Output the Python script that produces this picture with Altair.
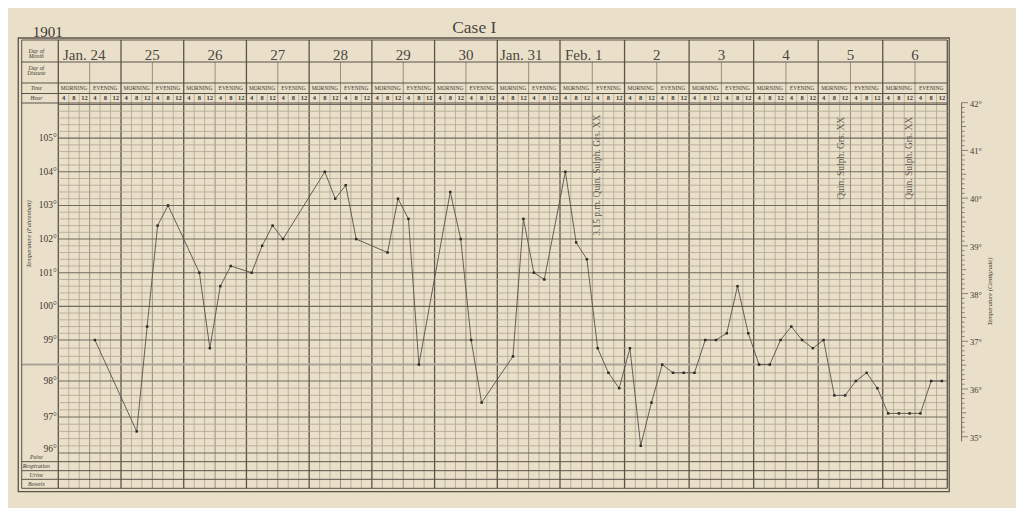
import altair as alt
import pandas as pd

# ---------------- data ----------------
day_labels = ["Jan. 24", "25", "26", "27", "28", "29", "30",
              "Jan. 31", "Feb. 1", "2", "3", "4", "5", "6"]
time_labels = ["MORNING", "EVENING"]
hour_labels = ["4", "8", "12"]

# column index (0 = Jan 24, 4 a.m.; 6 columns per day) and temperature (F)
reading_col = [3, 7, 8, 9, 10, 13, 14, 15, 16, 18, 19, 20, 21, 25, 26, 27, 28,
               31, 32, 33, 34, 37, 38, 39, 40, 43, 44, 45, 46, 48, 49, 50, 51,
               52, 53, 54, 55, 56, 57, 58, 59, 60, 61, 62, 63, 64, 65, 66, 67,
               68, 69, 70, 71, 72, 73, 74, 75, 76, 77, 78, 79, 80, 81, 82, 83]
reading_temp = [99.0, 96.6, 99.4, 102.4, 103.0, 101.0, 98.8, 100.6, 101.2, 101.0,
                101.8, 102.4, 102.0, 104.0, 103.2, 103.6, 102.0, 101.6, 103.2,
                102.6, 98.4, 103.4, 102.0, 99.0, 97.4, 98.6, 102.6, 101.0, 100.8,
                104.0, 101.9, 101.4, 98.8, 98.2, 97.8, 98.8, 96.2, 97.4, 98.4,
                98.2, 98.2, 98.2, 99.0, 99.0, 99.2, 100.6, 99.2, 98.4, 98.4, 99.0,
                99.4, 99.0, 98.8, 99.0, 97.6, 97.6, 98.0, 98.2, 97.8, 97.1, 97.1,
                97.1, 97.1, 98.0, 98.0]

fahrenheit_labels = [96, 97, 98, 99, 100, 101, 102, 103, 104, 105]
celsius_labels = [35, 36, 37, 38, 39, 40, 41, 42]
normal_temp = 98.4

annotation_text = ["3.15 p.m. Quin. Sulph. Grs. XX", "Quin. Sulph. Grs. XX",
                   "Quin. Sulph. Grs. XX"]
annotation_col = [51.4, 74.1, 80.4]
annotation_temp = [103.9, 104.4, 104.4]

header_text = ["Day of", "Month", "Day of", "Disease", "Time", "Hour"]
header_row = [0.5, 0.72, 1.27, 1.5, 2.5, 3.5]
footer_text = ["Pulse", "Respiration", "Urine", "Bowels"]
footer_row = [5.45, 6.5, 7.5, 8.5]

# ---------------- layout (scales) ----------------
FONT = "Liberation Serif"
BG = "#eae0c9"
INK = "#3c3833"
MINOR = "#aea592"
HALF = "#8f8676"
MAJOR = "#716a5e"
DAYC = "#5a534a"

XS = alt.Scale(domain=[0, 48, 84], range=[50.3, 552.0, 939.3], nice=False, zero=False)
TS = alt.Scale(domain=[96, 98, 99, 106], range=[445.0, 373.0, 332.0, 96.5], nice=False, zero=False)
RS = alt.Scale(domain=[-1, 0, 1, 2, 3, 4, 5, 6, 7, 8, 9, 10],
               range=[25.3, 32.0, 54.0, 75.0, 85.5, 95.0, 445.0, 453.7, 462.7, 471.3, 480.3, 483.7],
               nice=False, zero=False)
CS = alt.Scale(domain=[35, 42], range=[428.7, 94.7], nice=False, zero=False)


def X(f):
    return alt.X(f, type="quantitative", scale=XS, axis=None)


def Y(f, s):
    return alt.Y(f, type="quantitative", scale=s, axis=None)


layers = []

# --- vertical grid / table lines ---
vl = pd.DataFrame({"x": list(range(85))})
vl["kind"] = ["day" if i % 6 == 0 else ("half" if i % 3 == 0 else "col") for i in vl["x"]]
vl["y1"] = [0 if k == "day" else (1 if k == "half" else 3) for k in vl["kind"]]
vl["y2"] = 9
for kind, col, w in [("col", MINOR, 0.8), ("half", HALF, 0.9), ("day", DAYC, 1.3)]:
    layers.append(alt.Chart(vl[vl["kind"] == kind]).mark_rule(color=col, strokeWidth=w).encode(
        x=X("x"), y=Y("y1", RS), y2="y2"))

# --- horizontal temperature grid ---
temps = [round(96 + 0.2 * k, 1) for k in range(51)]
hl = pd.DataFrame({"t": temps})
hl["major"] = [abs(t - round(t)) < 1e-6 for t in temps]
hl = hl[abs(hl["t"] - normal_temp) > 1e-6]
hl["x1"] = 0
hl["x2"] = 84
layers.append(alt.Chart(hl[~hl["major"]]).mark_rule(color=MINOR, strokeWidth=0.8).encode(
    x=X("x1"), x2="x2", y=Y("t", TS)))
layers.append(alt.Chart(hl[hl["major"]]).mark_rule(color=MAJOR, strokeWidth=1.1).encode(
    x=X("x1"), x2="x2", y=Y("t", TS)))
# normal line
layers.append(alt.Chart(pd.DataFrame({"t": [normal_temp], "x1": [-3.5], "x2": [84]})).mark_rule(
    color="#aaa498", strokeWidth=2).encode(x=X("x1"), x2="x2", y=Y("t", TS)))

# --- table horizontal lines ---
tl = pd.DataFrame({"r": [0, 1, 2, 3, 4, 6, 7, 8, 9]})
tl["x1"] = -3.5
tl["x2"] = 84
layers.append(alt.Chart(tl).mark_rule(color=DAYC, strokeWidth=1).encode(
    x=X("x1"), x2="x2", y=Y("r", RS)))
# left inner border
layers.append(alt.Chart(pd.DataFrame({"x": [-3.5], "y1": [0], "y2": [9]})).mark_rule(
    color=DAYC, strokeWidth=1).encode(x=X("x"), y=Y("y1", RS), y2="y2"))
# outer border
layers.append(alt.Chart(pd.DataFrame({"x1": [-3.83], "x2": [84.18], "y1": [-0.3], "y2": [10]})).mark_rect(
    fillOpacity=0, stroke=DAYC, strokeWidth=1.3).encode(x=X("x1"), x2="x2", y=Y("y1", RS), y2="y2"))

# --- header texts ---
dl = pd.DataFrame({"label": day_labels, "d": list(range(14))})
left_off = {0: 0.45, 7: 0.26, 8: 0.46}
dl["x"] = [d * 6 + left_off[d] if d in left_off else d * 6 + 3 for d in dl["d"]]
dl["left"] = [d in left_off for d in dl["d"]]
dl["y"] = 0.93
for is_left, al in [(True, "left"), (False, "center")]:
    layers.append(alt.Chart(dl[dl["left"] == is_left]).mark_text(
        font=FONT, fontSize=15, color="#4a463f", align=al, baseline="alphabetic").encode(
        x=X("x"), y=Y("y", RS), text="label:N"))

tdf = pd.DataFrame({"h": list(range(28))})
tdf["label"] = [time_labels[h % 2] for h in tdf["h"]]
tdf["x"] = tdf["h"] * 3 + 1.5
tdf["y"] = 2.5
layers.append(alt.Chart(tdf).mark_text(font=FONT, fontSize=5.5, color=INK, baseline="middle").encode(
    x=X("x"), y=Y("y", RS), text="label:N"))

hdf = pd.DataFrame({"i": list(range(84))})
hdf["label"] = [hour_labels[i % 3] for i in hdf["i"]]
hdf["x"] = hdf["i"] + 0.5
hdf["y"] = 3.5
layers.append(alt.Chart(hdf).mark_text(font=FONT, fontSize=6.5, fontWeight="bold", color=INK,
                                       baseline="middle").encode(
    x=X("x"), y=Y("y", RS), text="label:N"))

lab = pd.DataFrame({"label": header_text + footer_text, "y": header_row + footer_row})
lab["x"] = -2.1
layers.append(alt.Chart(lab).mark_text(font=FONT, fontSize=5.8, fontStyle="italic", color=INK,
                                       baseline="middle").encode(
    x=X("x"), y=Y("y", RS), text="label:N"))

# titles
ttl = pd.DataFrame({"label": ["Case I"], "x": [39.8], "y": [-1]})
layers.append(alt.Chart(ttl).mark_text(font=FONT, fontSize=17.5, color="#4a463f", baseline="alphabetic").encode(
    x=X("x"), y=Y("y", RS), text="label:N"))
yr = pd.DataFrame({"label": ["1901"], "x": [-2.45], "y": [-0.4]})
layers.append(alt.Chart(yr).mark_text(font=FONT, fontSize=15, color=INK, align="left",
                                      baseline="alphabetic").encode(
    x=X("x"), y=Y("y", RS), text="label:N"))

# --- Fahrenheit labels ---
fl = pd.DataFrame({"t": fahrenheit_labels})
fl["label"] = [f"{t}°" for t in fahrenheit_labels]
fl["x"] = -0.15
layers.append(alt.Chart(fl[fl["t"] != 96]).mark_text(font=FONT, fontSize=9.5, color=INK, align="right",
                                                     baseline="middle").encode(
    x=X("x"), y=Y("t", TS), text="label:N"))
layers.append(alt.Chart(fl[fl["t"] == 96]).mark_text(font=FONT, fontSize=9.5, color=INK, align="right",
                                                     baseline="middle", dy=-4).encode(
    x=X("x"), y=Y("t", TS), text="label:N"))
layers.append(alt.Chart(pd.DataFrame({"label": ["Temperature (Fahrenheit)"], "x": [-2.8], "t": [102.15]})).mark_text(
    font=FONT, fontSize=6.5, fontStyle="italic", color=INK, angle=270, baseline="middle").encode(
    x=X("x"), y=Y("t", TS), text="label:N"))

# --- annotations ---
an = pd.DataFrame({"label": annotation_text, "x": annotation_col, "t": annotation_temp})
layers.append(alt.Chart(an).mark_text(font=FONT, fontSize=9.5, color="#5a554d", angle=270,
                                      baseline="middle").encode(
    x=X("x"), y=Y("t", TS), text="label:N"))

# --- temperature curve ---
rd = pd.DataFrame({"col": reading_col, "temp": reading_temp})
rd["x"] = rd["col"] + 0.5
layers.append(alt.Chart(rd).mark_line(color="#57514b", strokeWidth=0.9).encode(
    x=X("x"), y=Y("temp", TS)))
layers.append(alt.Chart(rd).mark_square(color="#2e2925", size=6, opacity=1).encode(
    x=X("x"), y=Y("temp", TS)))

# --- Centigrade scale ---
cx = 85.33
ct = [round(35 + 0.1 * k, 1) for k in range(71)]
cdf = pd.DataFrame({"c": ct})
cdf["len"] = [0.6 if abs(c - round(c)) < 1e-6 else (0.42 if abs(c * 2 - round(c * 2)) < 1e-6 else 0.28)
              for c in ct]
cdf["x1"] = cx
cdf["x2"] = cx + cdf["len"]
layers.append(alt.Chart(cdf).mark_rule(color=MAJOR, strokeWidth=0.8).encode(
    x=X("x1"), x2="x2", y=Y("c", CS)))
layers.append(alt.Chart(pd.DataFrame({"x": [cx], "c1": [34.9], "c2": [42]})).mark_rule(
    color=MAJOR, strokeWidth=1).encode(x=X("x"), y=Y("c1", CS), y2="c2"))
cl = pd.DataFrame({"c": celsius_labels})
cl["label"] = [f"{c}°" for c in celsius_labels]
cl["x"] = 86.1
layers.append(alt.Chart(cl).mark_text(font=FONT, fontSize=8.5, color=INK, align="left",
                                      baseline="middle", dy=1).encode(
    x=X("x"), y=Y("c", CS), text="label:N"))
layers.append(alt.Chart(pd.DataFrame({"label": ["Temperature (Centigrade)"], "x": [87.96], "c": [38.04]})).mark_text(
    font=FONT, fontSize=6.5, fontStyle="italic", color=INK, angle=270, baseline="middle").encode(
    x=X("x"), y=Y("c", CS), text="label:N"))

chart = alt.layer(*layers).resolve_scale(y="independent").properties(
    width=1008, height=500, padding=0, autosize=alt.AutoSizeParams(type="none"),
    background=BG).configure_view(strokeWidth=0)

chart.save("out.html", embed_options={"renderer": "svg", "actions": False})
